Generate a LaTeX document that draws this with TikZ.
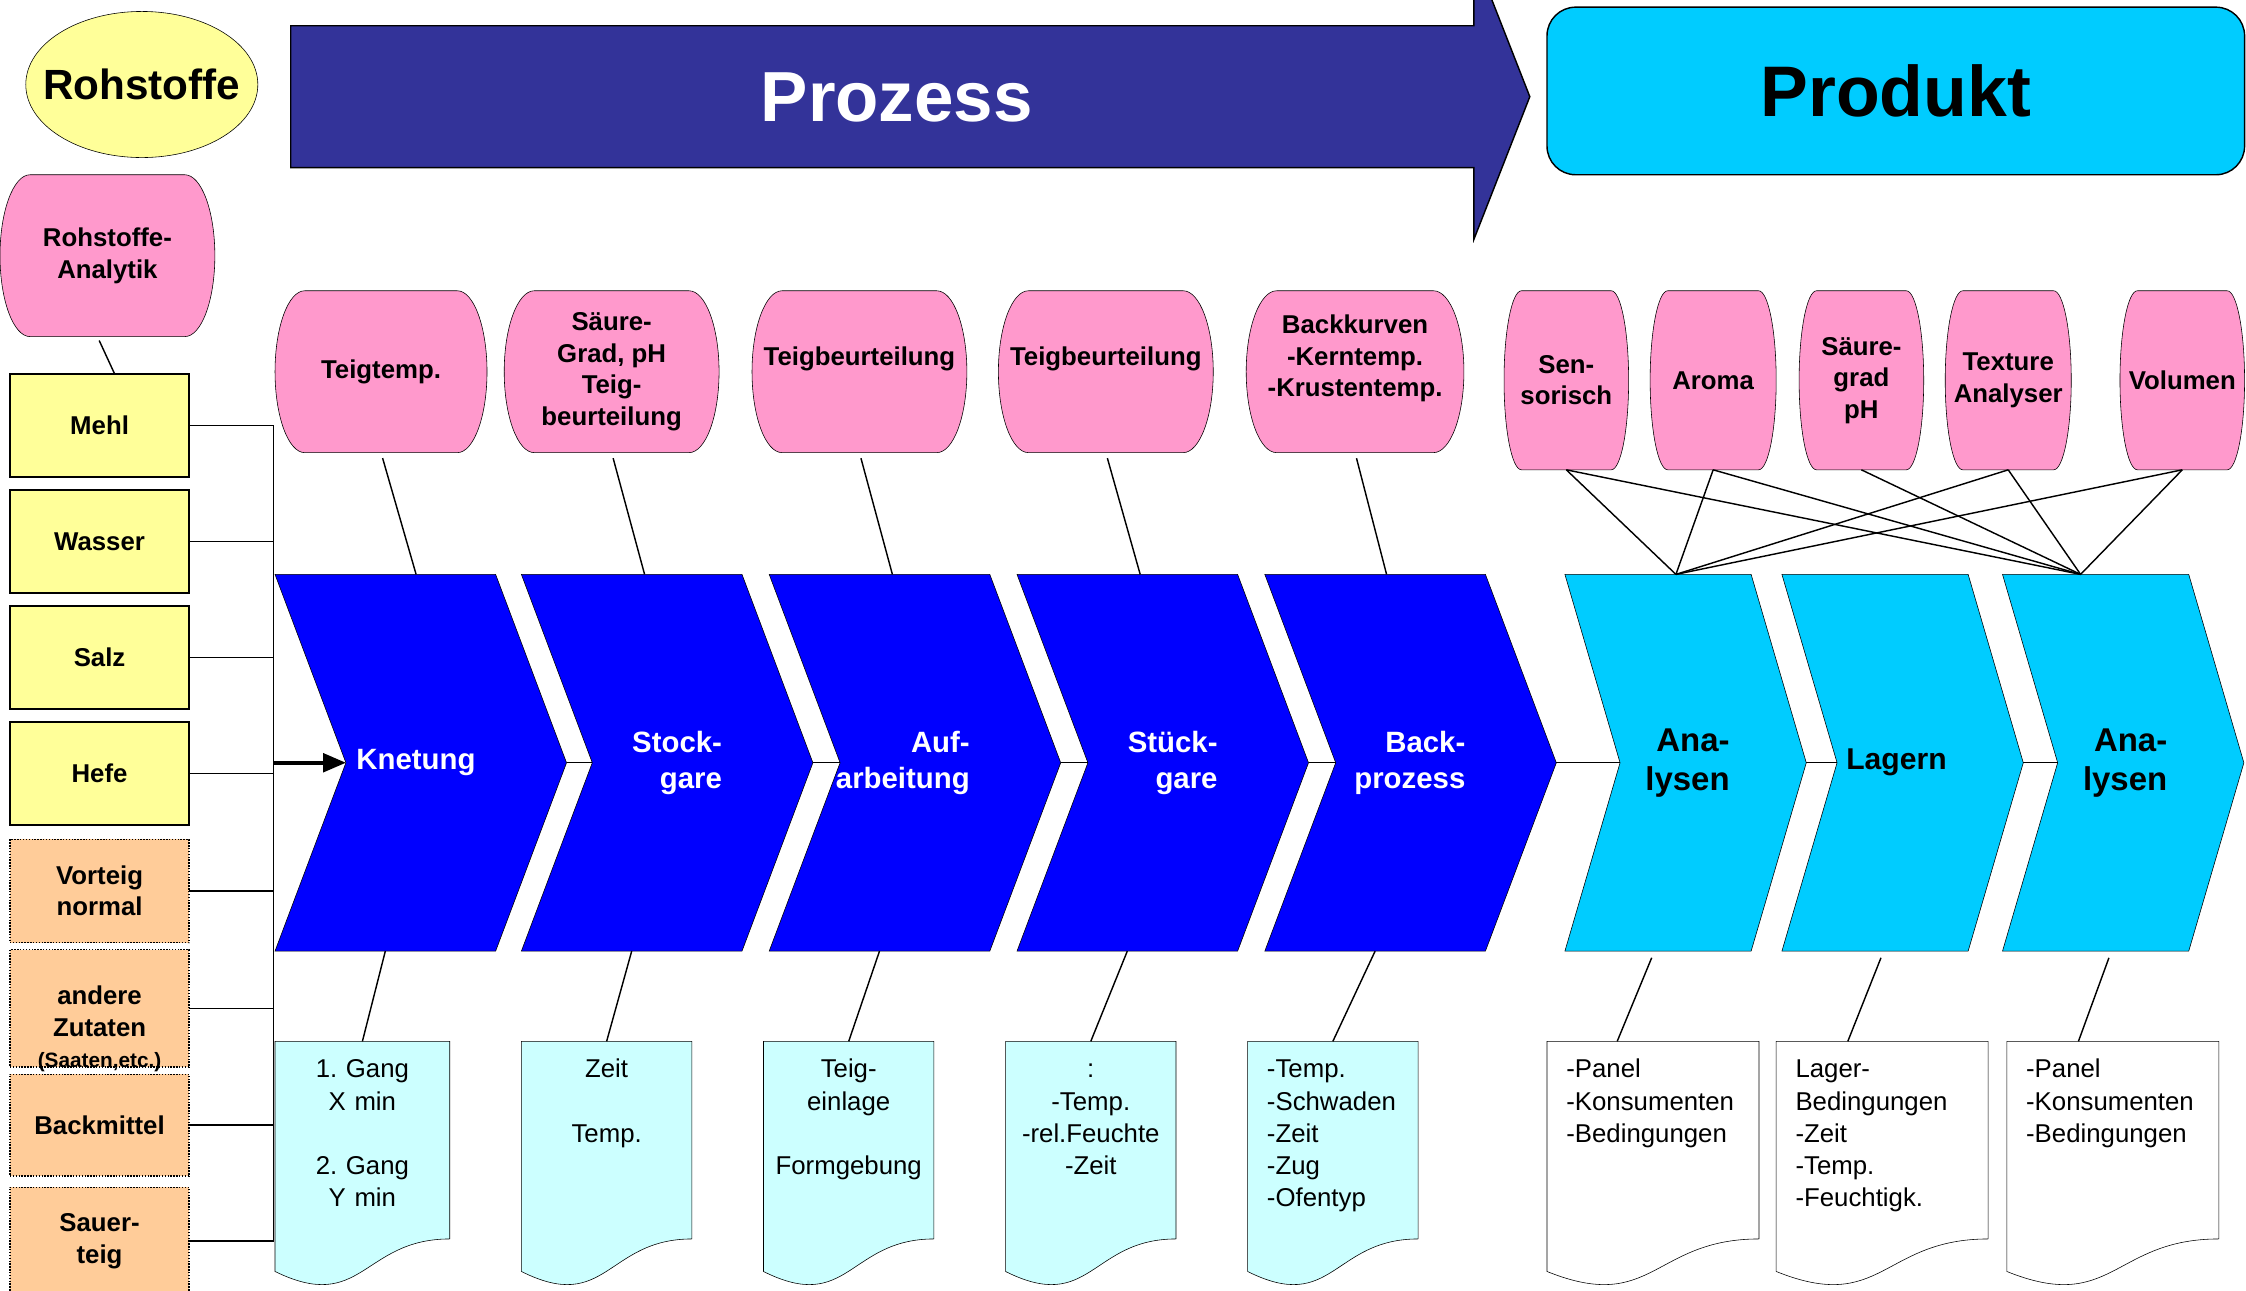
\documentclass[tikz,border=0pt]{standalone}
\usepackage{fontspec}
\setmainfont{Liberation Sans}
\usetikzlibrary{calc,backgrounds,arrows.meta,shapes.geometric}
\hyphenpenalty=10000
\frenchspacing

\definecolor{prozessblue}{HTML}{333399}
\definecolor{stepblue}{HTML}{0000FF}
\definecolor{cyanstep}{HTML}{00CCFF}
\definecolor{pinkbox}{HTML}{FF99CC}
\definecolor{yellowbox}{HTML}{FFFF99}
\definecolor{orangebox}{HTML}{FFCC99}
\definecolor{lightcyan}{HTML}{CCFFFF}

% barrel shape (flat top/bottom, elliptic sides) behind a node
\newcommand\barrelbg[2]{%
  \path[#2] let \p1=(#1.north west), \p2=(#1.south east),
    \n1={0.14*(\x2-\x1)}, \n2={(\y1-\y2)/2} in
    (\x1+\n1,\y1) -- (\x2-\n1,\y1)
    arc[start angle=90,end angle=-90,x radius={\n1*1pt},y radius={\n2*1pt}]
    -- (\x1+\n1,\y2)
    arc[start angle=270,end angle=90,x radius={\n1*1pt},y radius={\n2*1pt}]
    -- cycle;}
% chevron behind a node
\newcommand\chevbg[3]{%
  \path[#3] (#1.north west) -- (#1.north east) -- ($(#1.east)+(#2,0)$)
    -- (#1.south east) -- (#1.south west) -- ($(#1.west)+(#2,0)$) -- cycle;}
% document shape behind a node
\newcommand\docbg[2]{%
  \path[#2] let \p1=(#1.north west), \p2=(#1.south east),
    \n1={\x2-\x1}, \n2={\y1-\y2} in
    (\x1,\y1) -- (\x2,\y1) -- (\x2,{\y1-0.802*\n2})
    .. controls ({\x1+0.5*\n1},{\y1-0.802*\n2}) and ({\x1+0.5*\n1},{\y1-1.1075*\n2})
    .. (\x1,{\y1-0.934*\n2}) -- cycle;}

\begin{document}
\begin{tikzpicture}[x=1pt,y=-1pt,line width=1pt,
  every node/.style={inner sep=0pt,outer sep=0pt},
  rawbox/.style={draw,fill=yellowbox,minimum width=125pt,minimum height=72pt,
    align=center,font=\bfseries\fontsize{18}{22}\selectfont},
  extrabox/.style={rawbox,fill=orangebox,dash pattern=on 1pt off 1pt},
  barrel/.style={align=center,font=\bfseries\fontsize{18}{22}\selectfont},
  pinkshape/.style={draw,solid,fill=pinkbox},
  chevnode/.style={minimum height=263pt,text width=126pt,inner xsep=14pt,
    align=right,text=white,font=\bfseries\fontsize{20.5}{25}\selectfont},
  cyannode/.style={minimum height=263pt,text width=100pt,inner xsep=15pt,
    align=right,text=black,font=\bfseries\fontsize{23}{27}\selectfont},
  docnode/.style={text height=25.5pt,text depth=146.5pt,
    font=\fontsize{18}{22.5}\selectfont},
  cdoc/.style={docnode,align=center,inner xsep=5pt},
  ldoc/.style={docnode,align=left,inner xsep=13.5pt},
  bigarrow/.style={line width=2.5pt,-{Triangle[length=16pt,width=13pt]}}]

\useasboundingbox (0,0) rectangle (1568,901);
\clip (0,0) rectangle (1568,901);

% ---------- header ----------
\node[minimum width=162pt,minimum height=102pt,
  font=\bfseries\fontsize{29.5}{34}\selectfont] (rohstoffe) at (99,59) {Rohstoffe};
\path[draw,fill=prozessblue] (203,18) -- (1029,18) -- (1029,-32) -- (1068,67.5)
  -- (1029,167) -- (1029,117) -- (203,117) -- cycle;
\node[text=white,font=\bfseries\fontsize{49.5}{55}\selectfont] (prozess) at (626,68) {Prozess};
\node[draw,fill=cyanstep,rounded corners=20pt,minimum width=487pt,minimum height=117pt,
  font=\bfseries\fontsize{50}{55}\selectfont] (produkt) at (1323.5,63.5) {Produkt};

% ---------- raw materials ----------
\node[barrel,minimum width=150pt,minimum height=113pt] (analytik) at (75,178.5) {Rohstoffe-\\Analytik};
\node[rawbox] (mehl) at (69.5,297) {Mehl};
\node[rawbox] (wasser) at (69.5,378) {Wasser};
\node[rawbox] (salz) at (69.5,459) {Salz};
\node[rawbox] (hefe) at (69.5,540) {Hefe};
\node[extrabox] (vorteig) at (69.5,622) {Vorteig\\normal};
\node[extrabox,text width=121pt,inner xsep=2pt,text height=38.5pt,text depth=43.5pt]
  (zutaten) at (69.5,704) {andere\\Zutaten\\{\fontsize{14.5}{16}\selectfont (Saaten,etc.)}};
\node[extrabox,minimum height=71pt] (backmittel) at (69.5,785.5) {Backmittel};
\node[extrabox,minimum height=75pt] (sauerteig) at (69.5,866.5) {Sauer-\\teig};

% ---------- process analytics ----------
\node[barrel,minimum width=148pt,minimum height=113pt] (p1) at (266,259.5) {Teigtemp.};
\node[barrel,minimum width=150pt,minimum height=113pt] (p2) at (427,259.5) {Säure-\\Grad, pH\\Teig-\\beurteilung};
\node[barrel,minimum width=150pt,minimum height=113pt] (p3) at (600,259.5) {Teigbeurteilung\\\mbox{}};
\node[barrel,minimum width=150pt,minimum height=113pt] (p4) at (772,259.5) {Teigbeurteilung\\\mbox{}};
\node[barrel,minimum width=152pt,minimum height=113pt] (p5) at (946,259.5) {Backkurven\\-Kerntemp.\\-Krustentemp.\\\mbox{}};

% ---------- product analytics ----------
\node[barrel,minimum width=87pt,minimum height=125pt] (q1) at (1093.5,265.5) {Sen-\\sorisch};
\node[barrel,minimum width=88pt,minimum height=125pt] (q2) at (1196,265.5) {Aroma};
\node[barrel,minimum width=87pt,minimum height=125pt] (q3) at (1299.5,265.5) {Säure-\\grad\\pH};
\node[barrel,minimum width=88pt,minimum height=125pt] (q4) at (1402,265.5) {Texture\\Analyser};
\node[barrel,minimum width=87pt,minimum height=125pt] (q5) at (1523.5,265.5) {Volumen};

% ---------- process steps ----------
\node[chevnode] (k1) at (269,532.5) {Knetung};
\node[chevnode] (k2) at (441,532.5) {Stock-\\gare};
\node[chevnode] (k3) at (614,532.5) {Auf-\\arbeitung};
\node[chevnode] (k4) at (787,532.5) {Stück-\\gare};
\node[chevnode] (k5) at (960,532.5) {Back-\\prozess};
\node[cyannode] (a1) at (1157.5,532.5) {Ana-\\lysen};
\node[cyannode,font=\bfseries\fontsize{21}{25}\selectfont] (a2) at (1309,532.5) {Lagern};
\node[cyannode] (a3) at (1463,532.5) {Ana-\\lysen};
\foreach \k in {k1,k2,k3,k4,k5}{
  \coordinate (\k-in) at ($(\k.west)+(49.5,0)$);
  \coordinate (\k-out) at ($(\k.east)+(49.5,0)$);}
\foreach \k in {a1,a2,a3}{
  \coordinate (\k-in) at ($(\k.west)+(38.5,0)$);
  \coordinate (\k-out) at ($(\k.east)+(38.5,0)$);}

% ---------- documents ----------
\node[cdoc,text width=112pt] (d1) at (253,813) {1. Gang\\X min\\\mbox{}\\2. Gang\\Y min};
\node[cdoc,text width=109pt] (d2) at (423.5,813) {Zeit\\\mbox{}\\Temp.};
\node[cdoc,text width=109pt] (d3) at (592.5,813) {Teig-\\einlage\\\mbox{}\\Formgebung};
\node[cdoc,text width=109pt] (d4) at (761.5,813) {:\\-Temp.\\-rel.Feuchte\\-Zeit};
\node[ldoc,text width=92pt] (d5) at (930.5,813) {-Temp.\\-Schwaden\\-Zeit\\-Zug\\-Ofentyp};
\node[ldoc,text width=121pt] (d6) at (1154,813) {-Panel\\-Konsumenten\\-Bedingungen};
\node[ldoc,text width=121pt] (d7) at (1314,813) {Lager-\\Bedingungen\\-Zeit\\-Temp.\\-Feuchtigk.};
\node[ldoc,text width=121pt] (d8) at (1475,813) {-Panel\\-Konsumenten\\-Bedingungen};

% ---------- shapes behind the texts ----------
\begin{scope}[on background layer]
  \path[draw,fill=yellowbox] (rohstoffe.center) ellipse [x radius=81pt,y radius=51pt];
  \foreach \k in {analytik,p1,p2,p3,p4,p5,q1,q2,q3,q4,q5}{\barrelbg{\k}{pinkshape}}
  \foreach \k in {k1,k2,k3,k4,k5}{\chevbg{\k}{49.5}{draw,fill=stepblue}}
  \foreach \k in {a1,a2,a3}{\chevbg{\k}{38.5}{draw,fill=cyanstep}}
  \foreach \k in {d1,d2,d3,d4,d5}{\docbg{\k}{draw,fill=lightcyan}}
  \foreach \k in {d6,d7,d8}{\docbg{\k}{draw,fill=white}}
\end{scope}

% ---------- connectors ----------
\coordinate (bus) at (191,0);
\foreach \k in {mehl,wasser,salz,hefe,vorteig,zutaten,backmittel,sauerteig}
  {\draw (\k.east) -- (\k.east -| bus);}
\draw (mehl.east -| bus) -- (sauerteig.east -| bus);
\draw[bigarrow] (k1-in -| bus) -- (k1-in);
\draw[shorten <=3pt] ($(analytik.south)+(-7,0)$) -- ($(mehl.north)+(10.5,0)$);

\draw[shorten <=4pt] (p1.south) -- ($(k1.north)+(21.5,0)$);
\draw[shorten <=4pt] (p2.south) -- ($(k2.north)+(9,0)$);
\draw[shorten <=4pt] (p3.south) -- ($(k3.north)+(9,0)$);
\draw[shorten <=4pt] (p4.south) -- ($(k4.north)+(9,0)$);
\draw[shorten <=4pt] (p5.south) -- ($(k5.north)+(8,0)$);

\draw (k1.south) -- (d1.north);
\draw (k2.south) -- (d2.north);
\draw (k3.south) -- (d3.north);
\draw (k4.south) -- (d4.north);
\draw (k5.south) -- (d5.north);
\draw[shorten <=5pt] ($(a1.south)+(-2.5,0)$) -- ($(d6.north)+(-25,0)$);
\draw[shorten <=5pt] ($(a2.south)+(6,0)$) -- ($(d7.north)+(-24,0)$);
\draw[shorten <=5pt] ($(a3.south)+(11,0)$) -- ($(d8.north)+(-24,0)$);

\draw (k1-out) -- (k2-in);
\draw (k2-out) -- (k3-in);
\draw (k3-out) -- (k4-in);
\draw (k4-out) -- (k5-in);
\draw (k5-out) -- (a1-in);
\draw (a1-out) -- (a2-in);
\draw (a2-out) -- (a3-in);

\coordinate (fanA) at ($(a1.north)+(12.5,0)$);
\coordinate (fanB) at ($(a3.north)+(-10.5,0)$);
\draw (q1.south) -- (fanA);
\draw (q1.south) -- (fanB);
\draw (q2.south) -- (fanA);
\draw (q2.south) -- (fanB);
\draw (q3.south) -- (fanB);
\draw (q4.south) -- (fanA);
\draw (q4.south) -- (fanB);
\draw (q5.south) -- (fanA);
\draw (q5.south) -- (fanB);
\end{tikzpicture}
\end{document}
